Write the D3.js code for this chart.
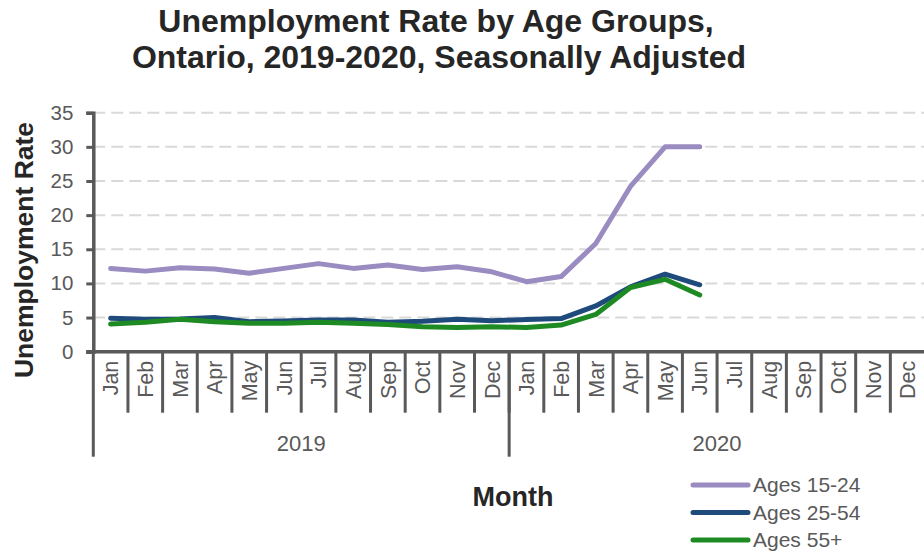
<!DOCTYPE html>
<html>
<head>
<meta charset="utf-8">
<script src="https://cdn.jsdelivr.net/npm/d3@7"></script>
<style>
  html, body { margin: 0; padding: 0; background: #fff; }
  svg { display: block; font-family: "Liberation Sans", Arial, sans-serif; }
</style>
</head>
<body>
<div id="chart"></div>
<script>
const months = ["Jan", "Feb", "Mar", "Apr", "May", "Jun", "Jul", "Aug", "Sep", "Oct", "Nov", "Dec"];
const years = ["2019", "2020"];
const yTicks = [0, 5, 10, 15, 20, 25, 30, 35];

const ages1524 = [12.2, 11.8, 12.3, 12.1, 11.5, 12.2, 12.9, 12.2, 12.7, 12.05, 12.45, 11.7,
                  10.25, 11.0, 15.85, 24.2, 30.0, 30.0];
const ages2554 = [4.9, 4.75, 4.8, 5.0, 4.4, 4.5, 4.65, 4.65, 4.3, 4.45, 4.75, 4.55,
                  4.7, 4.85, 6.7, 9.5, 11.35, 9.8];
const ages55 = [4.05, 4.3, 4.75, 4.4, 4.15, 4.15, 4.3, 4.15, 4.0, 3.65, 3.55, 3.65,
                3.55, 3.9, 5.45, 9.4, 10.6, 8.3];

const seriesNames = ["Ages 15-24", "Ages 25-54", "Ages 55+"];
const seriesColors = ["#9a8bc0", "#1f4a7c", "#1e8a24"];

const width = 924, height = 551;
const margin = { top: 112.7, right: -1, bottom: 199.3, left: 93.3 };

const svg = d3.select("#chart").append("svg")
    .attr("width", width)
    .attr("height", height);

// category keys, one per month across both years
const cats = [];
years.forEach(y => months.forEach(m => cats.push(y + "-" + m)));

const x = d3.scaleBand()
    .domain(cats)
    .range([margin.left, width - margin.right]);

const y = d3.scaleLinear()
    .domain([0, 35])
    .range([height - margin.bottom, margin.top]);

const axisColor = "#595959";
const textColor = "#595959";

// title
const title = svg.append("text")
    .attr("text-anchor", "middle")
    .attr("font-weight", "bold")
    .attr("font-size", 32)
    .attr("fill", "#262626");
title.append("tspan").attr("x", 436).attr("y", 32).text("Unemployment Rate by Age Groups,");
title.append("tspan").attr("x", 439).attr("y", 68).text("Ontario, 2019-2020, Seasonally Adjusted");

// gridlines
svg.append("g")
    .selectAll("line")
    .data(yTicks.filter(d => d > 0))
    .join("line")
    .attr("x1", margin.left)
    .attr("x2", width)
    .attr("y1", d => y(d))
    .attr("y2", d => y(d))
    .attr("stroke", "#d9d9d9")
    .attr("stroke-width", 2)
    .attr("stroke-dasharray", "12,6");

// y axis
const yAxis = svg.append("g")
    .attr("transform", `translate(${margin.left},0)`)
    .call(d3.axisLeft(y).tickValues(yTicks).tickSize(7).tickPadding(13));
yAxis.select(".domain").attr("stroke", axisColor).attr("stroke-width", 3.5);
yAxis.selectAll(".tick line").attr("stroke", axisColor).attr("stroke-width", 3);
yAxis.selectAll(".tick text")
    .attr("fill", textColor)
    .attr("font-size", 20.5)
    .attr("font-family", "Liberation Sans, Arial, sans-serif");

// x axis line
const y0 = y(0);
svg.append("line")
    .attr("x1", margin.left - 7)
    .attr("x2", width)
    .attr("y1", y0)
    .attr("y2", y0)
    .attr("stroke", axisColor)
    .attr("stroke-width", 3.5);

// month separators
const bw = x.bandwidth();
svg.append("g")
    .selectAll("line")
    .data(cats.slice(1))
    .join("line")
    .attr("x1", d => x(d))
    .attr("x2", d => x(d))
    .attr("y1", y0)
    .attr("y2", y0 + 61)
    .attr("stroke", axisColor)
    .attr("stroke-width", 3);

// year separators
svg.append("g")
    .selectAll("line")
    .data(years.map(yr => yr + "-Jan"))
    .join("line")
    .attr("x1", d => x(d))
    .attr("x2", d => x(d))
    .attr("y1", y0)
    .attr("y2", y0 + 105)
    .attr("stroke", axisColor)
    .attr("stroke-width", 3);

// month labels
svg.append("g")
    .selectAll("text")
    .data(cats)
    .join("text")
    .attr("transform", d => `translate(${x(d) + bw / 2},${y0 + 9}) rotate(-90)`)
    .attr("dy", "0.36em")
    .attr("text-anchor", "end")
    .attr("font-size", 21.5)
    .attr("fill", textColor)
    .text(d => d.split("-")[1]);

// year labels
svg.append("g")
    .selectAll("text")
    .data(years)
    .join("text")
    .attr("x", d => x(d + "-Jan") + bw * 6)
    .attr("y", y0 + 99)
    .attr("text-anchor", "middle")
    .attr("font-size", 22)
    .attr("fill", textColor)
    .text(d => d);

// axis titles
svg.append("text")
    .attr("transform", `translate(33,250) rotate(-90)`)
    .attr("text-anchor", "middle")
    .attr("font-weight", "bold")
    .attr("font-size", 26.5)
    .attr("fill", "#262626")
    .text("Unemployment Rate");

svg.append("text")
    .attr("x", 513)
    .attr("y", 506)
    .attr("text-anchor", "middle")
    .attr("font-weight", "bold")
    .attr("font-size", 27)
    .attr("fill", "#262626")
    .text("Month");

// lines
const line = d3.line()
    .x((d, i) => x(cats[i]) + bw / 2)
    .y(d => y(d));

[ages1524, ages2554, ages55].forEach((s, k) => {
    svg.append("path")
        .datum(s)
        .attr("d", line)
        .attr("fill", "none")
        .attr("stroke", seriesColors[k])
        .attr("stroke-width", 5)
        .attr("stroke-linejoin", "round")
        .attr("stroke-linecap", "round");
});

// legend
const legend = svg.append("g")
    .selectAll("g")
    .data(seriesNames)
    .join("g")
    .attr("transform", (d, i) => `translate(693,${485 + i * 27.5})`);
legend.append("line")
    .attr("x1", 0).attr("x2", 55)
    .attr("stroke", (d, i) => seriesColors[i])
    .attr("stroke-width", 5)
    .attr("stroke-linecap", "round");
legend.append("text")
    .attr("x", 60)
    .attr("dy", "0.35em")
    .attr("font-size", 21)
    .attr("fill", textColor)
    .text(d => d);
</script>
</body>
</html>
